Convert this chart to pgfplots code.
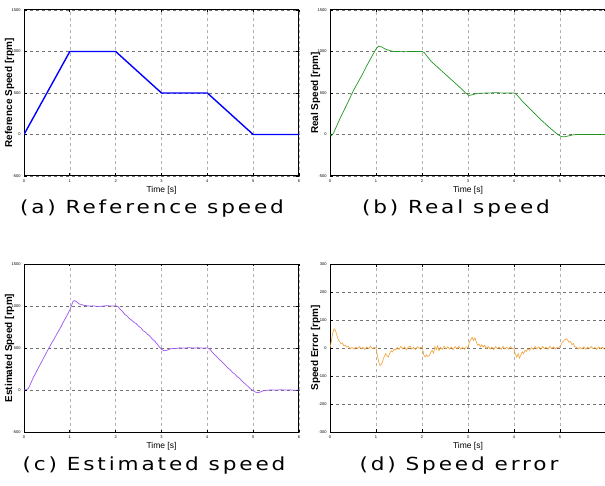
\documentclass[border=0pt]{standalone}
\usepackage{fontspec}
\setmainfont{Liberation Sans}
\newfontfamily\capfont[LetterSpace=16, FakeStretch=1.2]{DejaVu Sans}
\usepackage{pgfplots}
\pgfplotsset{compat=1.18}

\pgfplotsset{
  panel/.style={
    scale only axis,
    width=275bp, height=166bp,
    xmin=0, xmax=6,
    xtick={0,1,2,3,4,5,6},
    grid=major,
    major x grid style={dashed, black!30, line width=0.6pt},
    major y grid style={dashed, black!55, line width=0.6pt},
    tick align=inside,
    major tick length=2.5bp,
    tick style={black, line width=0.8pt},
    axis line style={black, line width=1pt},
    ticklabel style={font=\fontsize{4}{4}\selectfont},
    /pgf/number format/assume math mode=true,
    /pgf/number format/1000 sep={},
    xlabel={Time [s]},
    xlabel style={font=\fontsize{8.5}{9}\selectfont, yshift=3bp},
    ylabel style={font=\bfseries\fontsize{10}{11}\selectfont,
      at={(axis description cs:-0.0527,0.5)}, anchor=center, rotate=0},
  },
  spd/.style={ymin=-500, ymax=1500, ytick={-500,0,500,1000,1500}},
}

\begin{document}
\begin{tikzpicture}
\path[use as bounding box] (0,0) rectangle (605bp,486bp);

% (a) reference speed
\begin{axis}[panel, spd, at={(24bp,310bp)}, anchor=south west,
  ylabel={Reference Speed [rpm]}]
\addplot[blue, line width=1.4pt] coordinates {
(0,0) (1,1000) (2,1000) (3,500) (4,500) (5,0) (6,0)};
\end{axis}

% (b) real speed
\begin{axis}[panel, spd, at={(330bp,310bp)}, anchor=south west,
  width=276bp, xtick={0,1,2,3,4,5},
  ylabel={Real Speed [rpm]}]
\addplot[color={rgb,255:red,30;green,150;blue,30}, line width=0.7pt] coordinates {
(0,0) (0.03,-15) (0.08,20) (0.15,110) (0.25,230) (0.4,400) (0.5,520)
(0.6,620) (0.7,720) (0.8,830) (0.9,930) (1.0,1030) (1.06,1065) (1.12,1055)
(1.2,1030) (1.3,1010) (1.4,1000) (1.6,998) (1.8,1000) (2.0,1000) (2.05,985)
(2.2,880) (2.4,780) (2.6,680) (2.8,580) (2.95,500) (3.02,470) (3.1,480)
(3.2,495) (3.4,500) (3.6,503) (3.8,500) (4.0,500) (4.05,485) (4.2,390)
(4.4,280) (4.6,170) (4.8,70) (4.95,0) (5.03,-25) (5.1,-28) (5.2,-15)
(5.3,-2) (5.5,0) (5.8,1) (6.0,0)};
\end{axis}

% (c) estimated speed
\begin{axis}[panel, spd, at={(24bp,54bp)}, anchor=south west,
  height=168bp,
  ylabel={Estimated Speed [rpm]}]
\addplot[color={rgb,255:red,155;green,85;blue,240}, line width=0.7pt] coordinates {
(0,0) (0.05,3) (0.09,15) (0.12,45) (0.16,95) (0.2,145) (0.25,195) (0.3,250)
(0.35,300) (0.4,352) (0.45,405) (0.5,455) (0.55,505) (0.6,555) (0.65,600)
(0.7,650) (0.75,700) (0.8,745) (0.85,800) (0.9,850) (0.95,900) (1.0,955)
(1.04,1010) (1.07,1055) (1.1,1064) (1.13,1058) (1.16,1045) (1.2,1025)
(1.25,1018) (1.3,1008) (1.35,1005) (1.4,1000) (1.5,1002) (1.6,995) (1.7,998)
(1.8,1004) (1.9,1000) (2.0,1002) (2.05,995) (2.1,960) (2.15,935) (2.2,900)
(2.25,880) (2.3,850) (2.35,830) (2.4,805) (2.45,790) (2.5,760) (2.55,740)
(2.6,705) (2.65,690) (2.7,660) (2.75,640) (2.8,605) (2.85,585) (2.9,550)
(2.95,515) (3.0,485) (3.05,468) (3.1,470) (3.15,480) (3.2,490) (3.25,496)
(3.3,493) (3.4,502) (3.5,498) (3.6,505) (3.7,499) (3.8,503) (3.9,498)
(4.0,502) (4.05,490) (4.1,455) (4.15,425) (4.2,400) (4.25,370) (4.3,345)
(4.35,318) (4.4,290) (4.45,262) (4.5,240) (4.55,210) (4.6,190) (4.65,160)
(4.7,140) (4.75,110) (4.8,85) (4.85,62) (4.9,35) (4.95,10) (5.0,-8)
(5.05,-25) (5.1,-32) (5.15,-25) (5.2,-12) (5.25,-5) (5.3,-3) (5.4,2)
(5.5,-2) (5.6,3) (5.7,-1) (5.8,2) (5.9,-3) (6.0,0)};
\end{axis}

% (d) speed error
\begin{axis}[panel, at={(330bp,54bp)}, anchor=south west,
  width=276bp, height=168bp, xtick={0,1,2,3,4,5},
  ymin=-300, ymax=300, ytick={-300,-200,...,300},
  ylabel={Speed Error [rpm]}]
\addplot[color={rgb,255:red,240;green,160;blue,50}, line width=0.6pt] coordinates {
(0,0) (0.03,25) (0.06,55) (0.09,68) (0.12,62) (0.15,45) (0.18,30) (0.21,22)
(0.24,16) (0.27,18) (0.30,8) (0.33,10) (0.36,3) (0.40,6) (0.44,-3) (0.48,2)
(0.52,-4) (0.56,3) (0.60,-2) (0.64,5) (0.68,-3) (0.72,2) (0.76,-5) (0.80,4)
(0.84,-2) (0.88,6) (0.92,-3) (0.96,2) (1.00,0) (1.03,-25) (1.06,-50)
(1.09,-63) (1.12,-58) (1.15,-45) (1.18,-30) (1.21,-20) (1.24,-28) (1.27,-32)
(1.30,-18) (1.33,-10) (1.36,-14) (1.39,-4) (1.42,-8) (1.46,2) (1.50,-5)
(1.54,6) (1.58,-3) (1.62,4) (1.66,-6) (1.70,3) (1.74,7) (1.78,-4) (1.82,2)
(1.86,-5) (1.90,5) (1.94,-2) (1.98,3) (2.01,0) (2.04,-25) (2.07,-32)
(2.10,-24) (2.13,-30) (2.16,-28) (2.19,-15) (2.22,-8) (2.25,-18) (2.28,5)
(2.31,-6) (2.34,8) (2.37,-10) (2.40,2) (2.44,-5) (2.48,6) (2.52,-3) (2.56,4)
(2.60,-4) (2.64,3) (2.68,-6) (2.72,5) (2.76,-2) (2.80,6) (2.84,-4) (2.88,2)
(2.92,-5) (2.96,4) (3.00,2) (3.03,20) (3.06,30) (3.09,38) (3.12,28) (3.15,36)
(3.18,22) (3.21,10) (3.24,14) (3.27,4) (3.30,12) (3.33,3) (3.36,10) (3.40,-2)
(3.44,5) (3.48,-4) (3.52,3) (3.56,-6) (3.60,5) (3.64,-2) (3.68,4) (3.72,-5)
(3.76,6) (3.80,-3) (3.84,2) (3.88,-4) (3.92,5) (3.96,-2) (4.00,0) (4.03,-22)
(4.06,-33) (4.09,-20) (4.12,-36) (4.15,-25) (4.18,-14) (4.21,-20) (4.24,-8)
(4.27,-12) (4.30,-3) (4.34,-8) (4.38,2) (4.42,-5) (4.46,6) (4.50,-3) (4.54,4)
(4.58,-6) (4.62,5) (4.66,-2) (4.70,3) (4.74,-5) (4.78,6) (4.82,-2) (4.86,4)
(4.90,-4) (4.94,3) (4.98,2) (5.02,10) (5.05,20) (5.08,26) (5.11,30) (5.14,33)
(5.17,28) (5.20,20) (5.23,24) (5.26,12) (5.29,16) (5.32,4) (5.36,3) (5.40,-4)
(5.44,2) (5.48,-3) (5.52,4) (5.56,-5) (5.60,3) (5.64,-2) (5.68,5) (5.72,-3)
(5.76,2) (5.80,-5) (5.84,4) (5.88,-2) (5.92,3) (5.96,-4) (6.00,0)};
\end{axis}

% captions
\node[font=\capfont\fontsize{18bp}{20bp}\selectfont] at (152bp,277bp) {(a) Reference speed};
\node[font=\capfont\fontsize{18bp}{20bp}\selectfont] at (456bp,277bp) {(b) Real speed};
\node[font=\capfont\fontsize{18bp}{20bp}\selectfont] at (154bp,20bp) {(c) Estimated speed};
\node[font=\capfont\fontsize{18bp}{20bp}\selectfont] at (459bp,20bp) {(d) Speed error};
\end{tikzpicture}
\end{document}
